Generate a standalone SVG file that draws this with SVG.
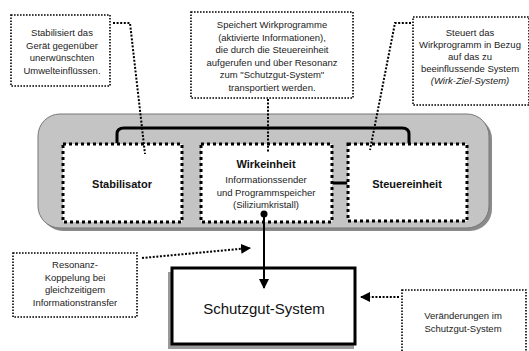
<svg xmlns="http://www.w3.org/2000/svg" width="529" height="351" viewBox="0 0 529 351">
<defs>
<style>
.note{fill:#fff;stroke:#000;stroke-width:1.6;stroke-dasharray:1.6 1.4}
.unit{fill:#fff;stroke:#000;stroke-width:3;stroke-dasharray:3 3}
.dl{fill:none;stroke:#000;stroke-width:2;stroke-dasharray:2 1.6}
.t{font-family:"Liberation Sans",Arial,sans-serif;font-size:9.5px;fill:#222;text-anchor:middle}
.b{font-family:"Liberation Sans",Arial,sans-serif;font-size:11px;font-weight:bold;fill:#111;text-anchor:middle}
</style>
<marker id="ah" viewBox="0 0 10 10" refX="9" refY="5" markerWidth="10" markerHeight="10" markerUnits="userSpaceOnUse" orient="auto"><path d="M0,0 L10,5 L0,10 z" fill="#000"/></marker>
</defs>
<rect width="529" height="351" fill="#fff"/>
<g id="panel">
<rect x="41" y="117" width="451" height="114" rx="22" fill="#8a8a8a"/>
<rect x="38" y="114" width="451" height="114" rx="22" fill="#c4c4c4" stroke="#777" stroke-width="1"/>
</g>
<g id="note-stabil">
<rect class="note" x="11" y="15" width="99" height="71"/>
<text class="t" x="62" y="36">Stabilisiert das</text>
<text class="t" x="62" y="48.5">Gerät gegenüber</text>
<text class="t" x="62" y="61">unerwünschten</text>
<text class="t" x="62" y="73.5">Umwelteinflüssen.</text>
</g>
<g id="note-wirk">
<rect class="note" x="191" y="12" width="162" height="86"/>
<text class="t" x="272" y="28">Speichert Wirkprogramme</text>
<text class="t" x="272" y="40.5">(aktivierte Informationen),</text>
<text class="t" x="272" y="53">die durch die Steuereinheit</text>
<text class="t" x="272" y="65.5">aufgerufen und über Resonanz</text>
<text class="t" x="272" y="78">zum "Schutzgut-System"</text>
<text class="t" x="272" y="90.5">transportiert werden.</text>
</g>
<g id="note-steuer">
<rect class="note" x="413" y="17" width="116" height="88"/>
<text class="t" x="470" y="36">Steuert das</text>
<text class="t" x="470" y="48">Wirkprogramm in Bezug</text>
<text class="t" x="470" y="60">auf das zu</text>
<text class="t" x="470" y="72">beeinflussende System</text>
<text class="t" x="470" y="84" font-style="italic">(Wirk-Ziel-System)</text>
</g>
<g id="stabilisator">
<rect class="unit" x="63" y="144" width="119" height="78"/>
<text class="b" x="122" y="188">Stabilisator</text>
</g>
<g id="wirkeinheit">
<rect class="unit" x="201" y="144" width="131" height="78"/>
<text class="b" x="266" y="168">Wirkeinheit</text>
<text class="t" x="266" y="183">Informationssender</text>
<text class="t" x="266" y="195.5">und Programmspeicher</text>
<text class="t" x="266" y="208">(Siliziumkristall)</text>
</g>
<g id="steuereinheit">
<rect class="unit" x="348" y="144" width="119" height="77"/>
<text class="b" x="407" y="188">Steuereinheit</text>
</g>
<g id="schutzgut">
<rect x="168" y="272" width="186" height="77" fill="#9a9a9a"/>
<rect x="172" y="268" width="183" height="76" fill="#fff" stroke="#000" stroke-width="3"/>
<text x="264" y="314" font-family="'Liberation Sans',Arial,sans-serif" font-size="15px" fill="#111" text-anchor="middle">Schutzgut-System</text>
</g>
<g id="note-resonanz">
<rect class="note" x="13" y="253" width="124" height="64"/>
<text class="t" x="75" y="268">Resonanz-</text>
<text class="t" x="75" y="280.5">Koppelung bei</text>
<text class="t" x="75" y="293">gleichzeitigem</text>
<text class="t" x="75" y="305.5">Informationstransfer</text>
</g>
<g id="note-veraend">
<rect class="note" x="402" y="290" width="124" height="70"/>
<text class="t" x="463" y="319">Veränderungen im</text>
<text class="t" x="463" y="332">Schutzgut-System</text>
</g>
<g id="connectors">
<path d="M117,143 V134 Q117,128 124,128 H402 Q409,128 409,134 V143" fill="none" stroke="#000" stroke-width="3"/>
<line x1="333" y1="183" x2="347" y2="183" stroke="#000" stroke-width="3"/>
<line x1="264" y1="214" x2="264" y2="288" stroke="#000" stroke-width="2" marker-end="url(#ah)"/>
<circle cx="264" cy="214" r="3.5" fill="#000"/>
<path class="dl" d="M113,23 H130 L145,154"/>
<path class="dl" d="M268,99 V153"/>
<path class="dl" d="M411,23 H395 L370,150"/>
<path class="dl" d="M142,258 L250,248" marker-end="url(#ah)"/>
<path class="dl" d="M399,297 H361" marker-end="url(#ah)"/>
</g>
</svg>
